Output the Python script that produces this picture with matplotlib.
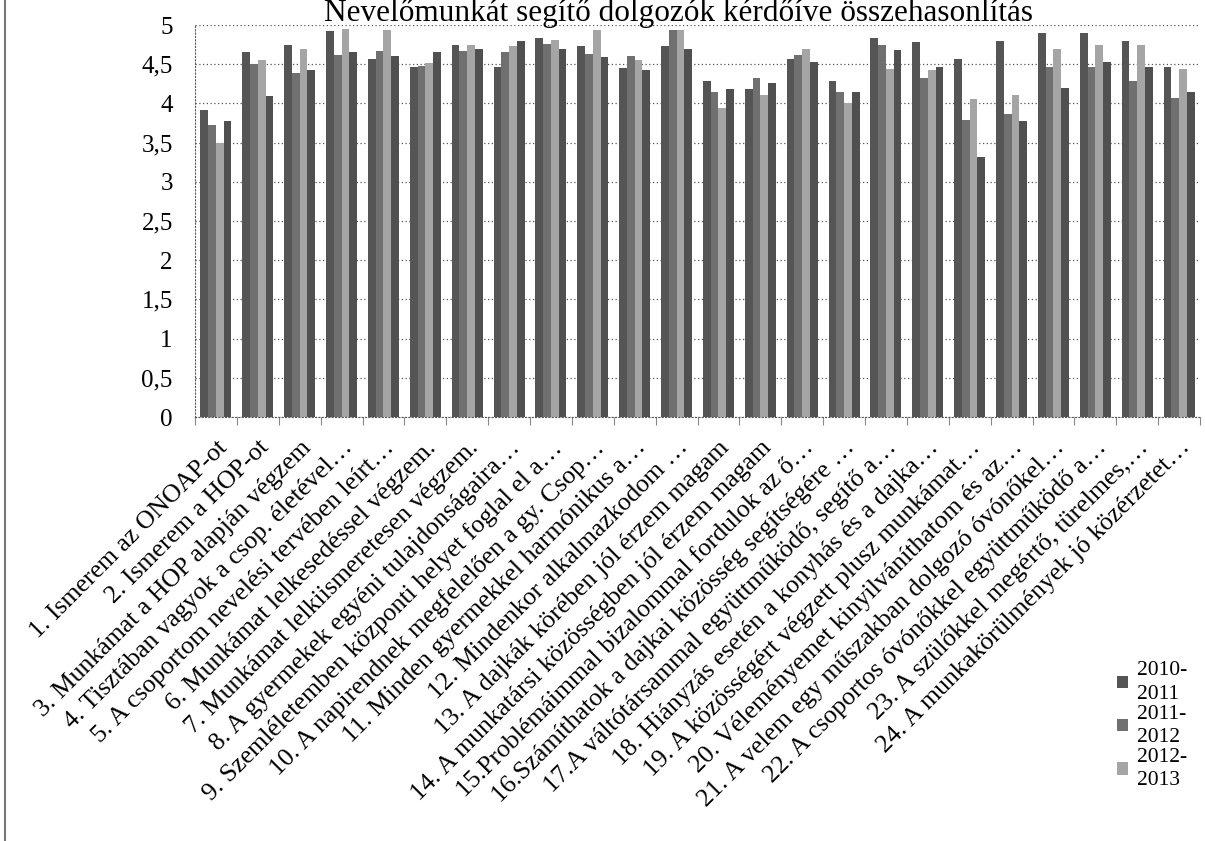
import numpy as np
import matplotlib
matplotlib.use("Agg")
import matplotlib.pyplot as plt
from matplotlib.lines import Line2D

# kérdőív tételei
kerdesek = [
    "1. Ismerem az ONOAP-ot",
    "2. Ismerem a HOP-ot",
    "3. Munkámat a HOP alapján végzem",
    "4. Tisztában vagyok a csop. életével…",
    "5. A csoportom nevelési tervében leírt…",
    "6. Munkámat lelkesedéssel végzem.",
    "7. Munkámat lelkiismeretesen végzem.",
    "8. A gyermekek egyéni tulajdonságaira…",
    "9. Szemléletemben központi helyet foglal el a…",
    "10. A napirendnek megfelelően a gy. Csop…",
    "11. Minden gyermekkel harmónikus a…",
    "12. Mindenkor alkalmazkodom …",
    "13. A dajkák körében jól érzem magam",
    "14. A munkatársi közösségben jól érzem magam",
    "15.Problémáimmal bizalommal fordulok az ő…",
    "16.Számíthatok a dajkai közösség segítségére …",
    "17.A váltótársammal együttműködő, segítő a…",
    "18. Hiányzás esetén a konyhás és a dajka…",
    "19. A közösségért végzett plusz munkámat…",
    "20. Véleményemet kinyilváníthatom és az…",
    "21. A velem egy műszakban dolgozó óvónőkel…",
    "22. A csoportos óvónőkkel együttműködő a…",
    "23. A szülőkkel megértő, türelmes,…",
    "24. A munkakörülmények jó közérzetet…",
]

# tanévek (a negyedik oszlop a jelmagyarázatból lemaradt)
evek = ["2010-\n2011", "2011-\n2012", "2012-\n2013", "2013-\n2014"]

ev_2010 = [3.91, 4.65, 4.75, 4.92, 4.56, 4.46, 4.75, 4.46, 4.83, 4.73, 4.45, 4.73,
           4.28, 4.18, 4.56, 4.28, 4.83, 4.78, 4.56, 4.79, 4.90, 4.90, 4.79, 4.46]
ev_2011 = [3.72, 4.50, 4.39, 4.62, 4.67, 4.48, 4.67, 4.66, 4.76, 4.63, 4.61, 4.94,
           4.14, 4.33, 4.62, 4.14, 4.75, 4.33, 3.79, 3.86, 4.47, 4.47, 4.28, 4.07]
ev_2012 = [3.50, 4.55, 4.69, 4.95, 4.94, 4.51, 4.75, 4.73, 4.81, 4.94, 4.55, 4.93,
           3.94, 4.11, 4.69, 4.01, 4.44, 4.43, 4.05, 4.11, 4.70, 4.75, 4.75, 4.44]
ev_2013 = [3.78, 4.09, 4.43, 4.65, 4.60, 4.65, 4.69, 4.80, 4.69, 4.59, 4.43, 4.69,
           4.19, 4.26, 4.53, 4.15, 4.68, 4.47, 3.31, 3.77, 4.20, 4.53, 4.47, 4.15]

sorozatok = [ev_2010, ev_2011, ev_2012, ev_2013]
szinek = ["#555555", "#707070", "#a5a5a5", "#505050"]

plt.rcParams['font.family'] = ['Liberation Serif', 'DejaVu Serif']

fig = plt.figure(figsize=(12.05, 8.41), dpi=100)
ax = fig.add_axes([195 / 1205, 1 - 417 / 841, (1200 - 195) / 1205, (417 - 25) / 841])

x = np.arange(len(kerdesek))
w = 0.185
for i, (adat, szin) in enumerate(zip(sorozatok, szinek)):
    cimke = evek[i] if i < 3 else "_nolegend_"
    ax.bar(x + (i - 1.5) * w, adat, width=w, color=szin, label=cimke, zorder=2)

ax.set_xlim(-0.5, len(kerdesek) - 0.5)
ax.set_ylim(0, 5)
ax.set_yticks(np.arange(0, 5.01, 0.5))
ax.set_yticklabels([("%g" % v).replace(".", ",") for v in np.arange(0, 5.01, 0.5)],
                   fontsize=18)
ax.yaxis.grid(True, linestyle=(0, (1, 2)), color="#555555", linewidth=0.9, zorder=0)
ax.tick_params(axis="y", length=0, pad=16)

ax.set_xticks(x)
ax.set_xticklabels(kerdesek, rotation=45, ha="right", rotation_mode="anchor",
                   fontsize=18.5)
ax.tick_params(axis="x", length=0, pad=14)

# apró pontozott jelek a kategóriahatároknál
ax.set_xticks(np.arange(-0.5, len(kerdesek), 1), minor=True)
ax.tick_params(axis="x", which="minor", length=6, width=0.8, color="#888888")

for s in ["top", "right"]:
    ax.spines[s].set_visible(False)
for s in ["left", "bottom"]:
    ax.spines[s].set_linestyle((0, (1, 2)))
    ax.spines[s].set_color("#555555")

fig.text(678 / 1205, 1 - 21 / 841, "Nevelőmunkát segítő dolgozók kérdőíve összehasonlítás",
         ha="center", va="baseline", fontsize=22.5)

leg = fig.legend(loc="upper left", bbox_to_anchor=(1098 / 1205, 1 - 642 / 841),
                 frameon=False, fontsize=15.5, handlelength=0.5, handleheight=0.5,
                 handletextpad=0.4, labelspacing=0.05)
for t in leg.get_texts():
    t.set_linespacing(1.3)

# a szkennelt lap bal széle
fig.add_artist(Line2D([5 / 1205, 5 / 1205], [0, 1], transform=fig.transFigure,
                      color="#777777", linewidth=1.5))

fig.savefig("out.png", dpi=100)
